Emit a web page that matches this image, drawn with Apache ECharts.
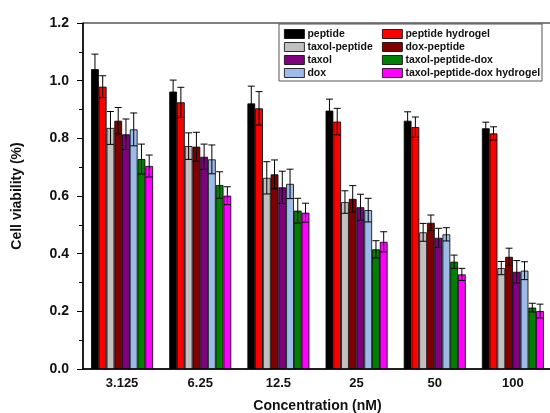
<!DOCTYPE html>
<html>
<head>
<meta charset="utf-8">
<script src="https://cdn.jsdelivr.net/npm/echarts@6/dist/echarts.min.js"></script>
<style>html,body{margin:0;padding:0;background:#fff}#c{width:550px;height:413px}</style>
</head>
<body>
<div id="c"></div>
<script>
const categories = ['3.125', '6.25', '12.5', '25', '50', '100'];
const seriesNames = ['peptide', 'peptide hydrogel', 'taxol-peptide', 'dox-peptide', 'taxol', 'dox', 'taxol-peptide-dox', 'taxol-peptide-dox hydrogel'];
const peptide = [1.040, 0.962, 0.921, 0.896, 0.861, 0.835];
const peptideErr = [0.052, 0.040, 0.060, 0.040, 0.031, 0.021];
const peptideHydrogel = [0.979, 0.925, 0.904, 0.858, 0.839, 0.817];
const peptideHydrogelErr = [0.038, 0.052, 0.058, 0.046, 0.035, 0.023];
const taxolPeptide = [0.836, 0.773, 0.663, 0.579, 0.474, 0.350];
const taxolPeptideErr = [0.057, 0.046, 0.056, 0.039, 0.031, 0.023];
const doxPeptide = [0.861, 0.771, 0.675, 0.590, 0.507, 0.389];
const doxPeptideErr = [0.046, 0.050, 0.050, 0.046, 0.027, 0.030];
const taxol = [0.814, 0.736, 0.630, 0.561, 0.455, 0.337];
const taxolErr = [0.053, 0.044, 0.056, 0.045, 0.033, 0.039];
const dox = [0.831, 0.727, 0.642, 0.551, 0.467, 0.341];
const doxErr = [0.057, 0.050, 0.051, 0.041, 0.023, 0.031];
const taxolPeptideDox = [0.728, 0.638, 0.549, 0.415, 0.372, 0.213];
const taxolPeptideDoxErr = [0.052, 0.046, 0.043, 0.030, 0.023, 0.015];
const taxolPeptideDoxHydrogel = [0.704, 0.601, 0.542, 0.441, 0.328, 0.201];
const taxolPeptideDoxHydrogelErr = [0.038, 0.031, 0.033, 0.035, 0.021, 0.024];
const yTicks = [0.0, 0.2, 0.4, 0.6, 0.8, 1.0, 1.2];

const values = [peptide, peptideHydrogel, taxolPeptide, doxPeptide, taxol, dox, taxolPeptideDox, taxolPeptideDoxHydrogel];
const errors = [peptideErr, peptideHydrogelErr, taxolPeptideErr, doxPeptideErr, taxolErr, doxErr, taxolPeptideDoxErr, taxolPeptideDoxHydrogelErr];
const colors = ['#000000', '#ff0000', '#c0c0c0', '#800000', '#800080', '#9dbbe8', '#008000', '#ff00ff'];
const CAT_GAP = 0.207;
const N = seriesNames.length;
const FONT = 'Liberation Sans, Arial, sans-serif';

const series = [];
values.forEach((vals, i) => {
  series.push({
    name: seriesNames[i], type: 'bar', data: vals, barGap: '0%', barCategoryGap: (CAT_GAP * 100) + '%',
    itemStyle: { color: colors[i], borderColor: '#000', borderWidth: 0.8 }, z: 2
  });
});
values.forEach((vals, i) => {
  series.push({
    type: 'custom', name: seriesNames[i] + ' err', z: 5, silent: true,
    data: vals.map((v, k) => [k, v, errors[i][k]]),
    renderItem: function (params, api) {
      const k = api.value(0), v = api.value(1), e = api.value(2);
      const band = api.size([1, 0])[0];
      const bw = band * (1 - CAT_GAP) / N;
      const cx = api.coord([k, v])[0] + (i - (N - 1) / 2) * bw;
      const yt = api.coord([k, v + e])[1];
      const yb = api.coord([k, v - e])[1];
      const hw = bw * 0.45;
      const st = { stroke: '#000', lineWidth: 1 };
      return { type: 'group', children: [
        { type: 'line', shape: { x1: cx, y1: yt, x2: cx, y2: yb }, style: st },
        { type: 'line', shape: { x1: cx - hw, y1: yt, x2: cx + hw, y2: yt }, style: st },
        { type: 'line', shape: { x1: cx - hw, y1: yb, x2: cx + hw, y2: yb }, style: st }
      ]};
    }
  });
});

const legendCommon = {
  orient: 'vertical', itemWidth: 20, itemHeight: 9, itemGap: 1, padding: 0, icon: 'rect',
  textStyle: { fontFamily: FONT, fontWeight: 'bold', fontSize: 10.5, color: '#111', lineHeight: 12, padding: [0, 0, 0, -2] },
  itemStyle: { borderColor: '#000', borderWidth: 0.8 }
};

const chart = echarts.init(document.getElementById('c'), null, { renderer: 'canvas' });
chart.setOption({
  animation: false,
  color: colors,
  grid: { left: 83, top: 23, bottom: 44, width: 469, outerBoundsMode: 'none', show: true, borderColor: '#000', borderWidth: 1 },
  legend: [
    Object.assign({ left: 284, top: 28, data: [seriesNames[0], seriesNames[2], seriesNames[4], seriesNames[5]] }, legendCommon),
    Object.assign({ left: 382, top: 28, data: [seriesNames[1], seriesNames[3], seriesNames[6], seriesNames[7]] }, legendCommon)
  ],
  graphic: [{ type: 'rect', shape: { x: 279, y: 24, width: 263, height: 57 }, style: { fill: 'none', stroke: '#555', lineWidth: 1 }, z: 10 }],
  xAxis: {
    type: 'category', data: categories,
    name: 'Concentration (nM)', nameLocation: 'middle', nameGap: 30,
    nameTextStyle: { fontFamily: FONT, fontWeight: 'bold', fontSize: 14, color: '#111' },
    axisLine: { lineStyle: { color: '#000', width: 1.5 } },
    axisTick: { show: false },
    axisLabel: { fontFamily: FONT, fontWeight: 'bold', fontSize: 13, color: '#111', margin: 8 }
  },
  yAxis: {
    type: 'value', min: yTicks[0], max: yTicks[yTicks.length - 1], interval: 0.2,
    name: 'Cell viability (%)', nameLocation: 'middle', nameGap: 59,
    nameTextStyle: { fontFamily: FONT, fontWeight: 'bold', fontSize: 14, color: '#111' },
    axisLine: { show: true, lineStyle: { color: '#000', width: 1.5 } },
    axisTick: { show: true, inside: false, length: 6, lineStyle: { color: '#000', width: 1 } },
    minorTick: { show: true, splitNumber: 2, length: 4, lineStyle: { color: '#000', width: 1 } },
    splitLine: { show: false },
    axisLabel: { fontFamily: FONT, fontWeight: 'bold', fontSize: 14, color: '#111', margin: 14, formatter: v => v.toFixed(1) }
  },
  series: series
});
</script>
</body>
</html>
